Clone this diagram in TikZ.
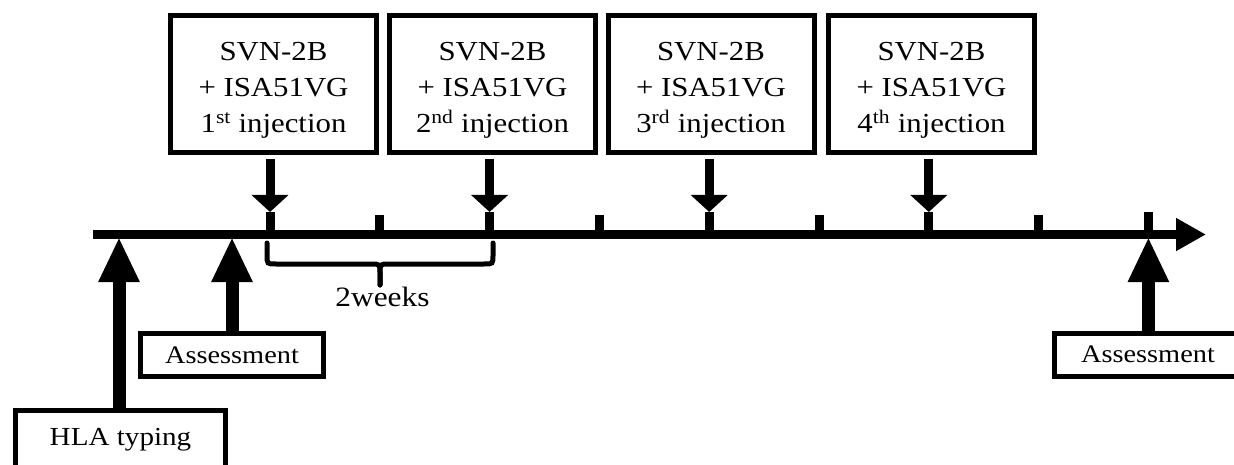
\documentclass[tikz,border=0pt]{standalone}
\usepackage{fontspec}
\setmainfont{Liberation Serif}[FakeStretch=1.12]
\usetikzlibrary{arrows.meta}
\begin{document}
\begin{tikzpicture}[x=1pt,y=-1pt,
  topbox/.style={draw, line width=5pt, minimum width=206pt, minimum height=137pt, inner sep=0pt},
  toptext/.style={align=center, inner sep=0pt, font=\fontsize{27.5}{36}\selectfont},
  assess/.style={draw, line width=5pt, minimum width=183pt, minimum height=43pt, inner sep=0pt, font=\fontsize{25.3}{30}\selectfont},
  hlabox/.style={draw, line width=5pt, minimum width=210pt, inner sep=0pt, text height=35.5pt, text depth=35pt, font=\fontsize{26}{30}\selectfont},
  downarrow/.style={line width=9pt, -{Triangle[width=36pt,length=17pt]}, shorten <=4.5pt},
  uparrow/.style={line width=13pt, -{Triangle[width=38pt,length=45pt]}},
  tickmark/.style={line width=9pt},
  timeline/.style={line width=9pt, -{Triangle[width=31pt,length=30pt]}},
  bracestyle/.style={line width=5pt, line cap=round},
  weeks/.style={inner sep=0pt, font=\fontsize{28}{32}\selectfont}
]
\useasboundingbox (0,0) rectangle (1234,465);
\clip (0,0) rectangle (1234,465);

% timeline
\coordinate (start) at (93,234.5);
\coordinate (end) at (1206,234.5);
\draw[timeline] (start) -- (end);

% tick positions
\foreach \i/\x in {0/270,1/379.8,2/489.6,3/599.4,4/709.2,5/819,6/928.8,7/1038.6,8/1148.4}{
  \coordinate (k\i) at (\x,231);
}
\coordinate (d1) at (270,212);
\coordinate (d2) at (489.6,212);
\coordinate (d3) at (709.2,212);
\coordinate (d4) at (928.8,212);

% injection boxes
\node[topbox] (b1) at (273.5,84) {};
\node[topbox] (b2) at (492.5,84) {};
\node[topbox] (b3) at (711,84) {};
\node[topbox] (b4) at (931.5,84) {};
\node[toptext] (t1) at (273.5,90) {SVN-2B\\+ ISA51VG\\1\textsuperscript{st} injection};
\node[toptext] (t2) at (492.5,90) {SVN-2B\\+ ISA51VG\\2\textsuperscript{nd} injection};
\node[toptext] (t3) at (711,90) {SVN-2B\\+ ISA51VG\\3\textsuperscript{rd} injection};
\node[toptext] (t4) at (931.5,90) {SVN-2B\\+ ISA51VG\\4\textsuperscript{th} injection};

% ticks
\draw[tickmark] (k0) -- (d1);
\draw[tickmark] (k2) -- (d2);
\draw[tickmark] (k4) -- (d3);
\draw[tickmark] (k6) -- (d4);
\draw[tickmark] (k1) -- ++(0,-16);
\draw[tickmark] (k3) -- ++(0,-16);
\draw[tickmark] (k5) -- ++(0,-16);
\draw[tickmark] (k7) -- ++(0,-16);
\draw[tickmark] (k8) -- ++(0,-19);

% down arrows
\draw[downarrow] (b1.south -| d1) -- (d1);
\draw[downarrow] (b2.south -| d2) -- (d2);
\draw[downarrow] (b3.south -| d3) -- (d3);
\draw[downarrow] (b4.south -| d4) -- (d4);

% bottom boxes
\node[assess] (a1) at (232,355) {Assessment};
\node[assess, minimum width=187pt] (a2) at (1148,354.5) {Assessment};
\node[hlabox, anchor=north] (h) at (120.5,407.5) {HLA typing};

% up arrows
\coordinate (u0) at (119,237);
\coordinate (u1) at (232,237);
\coordinate (u2) at (1148.4,237);
\draw[uparrow] (h.north -| u0) -- (u0);
\draw[uparrow] (a1.north -| u1) -- (u1);
\draw[uparrow] (a2.north -| u2) -- (u2);

% brace
\coordinate (brL) at (267,243);
\coordinate (brR) at (493,243);
\coordinate (brM) at (380,285);
\draw[bracestyle] (brM) -- (380,273) .. controls (380,264) .. (371,264) -- (276,264) .. controls (267,264) .. (267,255) -- (brL);
\draw[bracestyle] (brM) -- (380,273) .. controls (380,264) .. (389,264) -- (484,264) .. controls (493,264) .. (493,255) -- (brR);
\node[weeks] (w) at (382.5,297) {2weeks};
\end{tikzpicture}
\end{document}
